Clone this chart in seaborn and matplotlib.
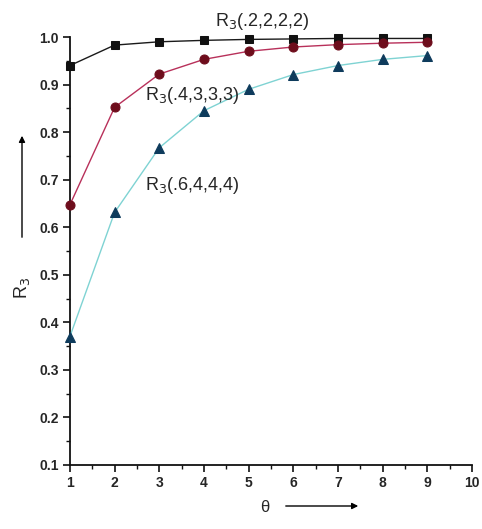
import matplotlib
matplotlib.use("Agg")
import matplotlib.pyplot as plt
import seaborn as sns
import pandas as pd
from matplotlib.ticker import MultipleLocator

sns.set_style("ticks")
plt.rcParams["font.family"] = ["Liberation Sans", "DejaVu Sans"]

theta = [1, 2, 3, 4, 5, 6, 7, 8, 9]
r3_2222 = [0.940, 0.983, 0.990, 0.993, 0.995, 0.996, 0.997, 0.997, 0.997]
r3_4333 = [0.647, 0.852, 0.922, 0.953, 0.970, 0.979, 0.984, 0.987, 0.989]
r3_6444 = [0.370, 0.631, 0.767, 0.845, 0.890, 0.921, 0.940, 0.953, 0.961]

series = [
    ("R$_3$(.2,2,2,2)", r3_2222, "#1a1a1a", "#111111", "s", 6),
    ("R$_3$(.4,3,3,3)", r3_4333, "#b8305a", "#6e0d1c", "o", 6.5),
    ("R$_3$(.6,4,4,4)", r3_6444, "#7fd3d3", "#0e3b5c", "^", 6.5),
]

fig = plt.figure(figsize=(4.82, 5.29), dpi=100)
ax = fig.add_axes([0.145, 0.121, 0.834, 0.809])

for name, vals, lc, mc, mk, ms in series:
    df = pd.DataFrame({"theta": theta, "R3": vals})
    sns.lineplot(data=df, x="theta", y="R3", ax=ax, color=lc, lw=1.0,
                 marker=mk, markersize=ms, markerfacecolor=mc,
                 markeredgecolor=mc, clip_on=False, zorder=3)

ax.set_xlim(1, 10)
ax.set_ylim(0.1, 1.0)
ax.xaxis.set_major_locator(MultipleLocator(1))
ax.xaxis.set_minor_locator(MultipleLocator(0.5))
ax.yaxis.set_minor_locator(MultipleLocator(0.05))
ax.set_yticks([0.1, 0.2, 0.3, 0.4, 0.5, 0.6, 0.7, 0.8, 0.9, 1.0])
ax.set_yticklabels(["0.1", "0.2", "0.3", "0.4", "0.5", "0.6", "0.7", "0.8", "0.9", "1.0"])
ax.tick_params(which="major", length=5, width=1.2, labelsize=10, pad=3, color="#111111")
ax.tick_params(which="minor", length=3, width=1.0, color="#111111")
for lbl in ax.get_xticklabels() + ax.get_yticklabels():
    lbl.set_fontweight("bold")
sns.despine(ax=ax, top=True, right=True)
for sp in ("left", "bottom"):
    ax.spines[sp].set_linewidth(1.3)
    ax.spines[sp].set_color("#111111")
ax.set_xlabel("")
ax.set_ylabel("")

# curve labels
ax.text(4.25, 1.01, "R$_3$(.2,2,2,2)", fontsize=13, ha="left", va="bottom")
ax.text(2.68, 0.855, "R$_3$(.4,3,3,3)", fontsize=13, ha="left", va="bottom")
ax.text(2.68, 0.665, "R$_3$(.6,4,4,4)", fontsize=13, ha="left", va="bottom")

# axis labels with arrows
fig.text(22 / 482, 1 - 288 / 529, "R$_3$", rotation=90, fontsize=13,
         ha="center", va="center")
fig.add_artist(matplotlib.patches.FancyArrowPatch(
    (22 / 482, 1 - 240 / 529), (22 / 482, 1 - 133 / 529),
    transform=fig.transFigure, arrowstyle="-|>", mutation_scale=9,
    color="black", lw=1.0))
fig.text(265 / 482, 1 - 508 / 529, "θ", fontsize=12, ha="center", va="center")
fig.add_artist(matplotlib.patches.FancyArrowPatch(
    (283 / 482, 1 - 506 / 529), (361 / 482, 1 - 506 / 529),
    transform=fig.transFigure, arrowstyle="-|>", mutation_scale=9,
    color="black", lw=1.0))

fig.savefig("out.png", dpi=100)
